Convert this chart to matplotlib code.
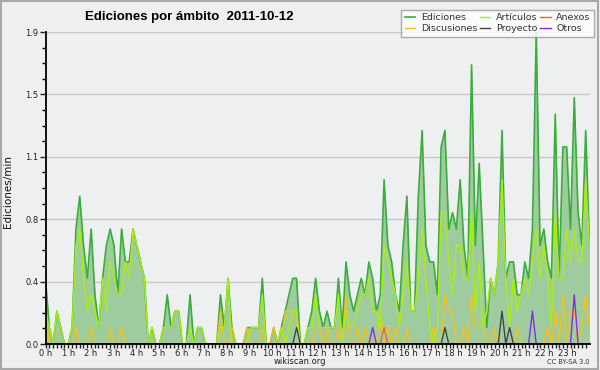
import numpy as np
import matplotlib
matplotlib.use('Agg')
import matplotlib.pyplot as plt
from matplotlib.patches import Rectangle

# edits per minute, one value per 10-minute slot (144 slots, 6 per hour)
ediciones = [
    0.4, 0.1, 0.0, 0.2, 0.1, 0.0,   # 0 h
    0.0, 0.1, 0.7, 0.9, 0.6, 0.4,   # 1 h
    0.7, 0.3, 0.1, 0.4, 0.6, 0.7,   # 2 h
    0.6, 0.3, 0.7, 0.5, 0.5, 0.7,   # 3 h
    0.6, 0.5, 0.4, 0.0, 0.1, 0.0,   # 4 h
    0.0, 0.1, 0.3, 0.1, 0.2, 0.2,   # 5 h
    0.0, 0.0, 0.3, 0.0, 0.1, 0.1,   # 6 h
    0.0, 0.0, 0.0, 0.0, 0.3, 0.1,   # 7 h
    0.4, 0.1, 0.0, 0.0, 0.0, 0.1,   # 8 h
    0.1, 0.1, 0.1, 0.4, 0.0, 0.0,   # 9 h
    0.1, 0.0, 0.1, 0.2, 0.3, 0.4,   # 10 h
    0.4, 0.0, 0.0, 0.1, 0.2, 0.4,   # 11 h
    0.2, 0.1, 0.2, 0.1, 0.1, 0.4,   # 12 h
    0.1, 0.5, 0.3, 0.2, 0.3, 0.4,   # 13 h
    0.3, 0.5, 0.4, 0.2, 0.3, 1.0,   # 14 h
    0.6, 0.5, 0.3, 0.2, 0.6, 0.9,   # 15 h
    0.2, 0.2, 0.9, 1.3, 0.6, 0.5,   # 16 h
    0.5, 0.3, 1.2, 1.3, 0.7, 0.8,   # 17 h
    0.7, 1.0, 0.6, 0.4, 1.7, 0.6,   # 18 h
    1.1, 0.6, 0.1, 0.4, 0.3, 0.5,   # 19 h
    1.3, 0.4, 0.5, 0.5, 0.3, 0.3,   # 20 h
    0.5, 0.4, 0.7, 1.9, 0.6, 0.7,   # 21 h
    0.5, 0.4, 1.4, 0.4, 1.2, 1.2,   # 22 h
    0.7, 1.5, 0.8, 0.6, 1.3, 0.6,   # 23 h
]

articulos = [
    0.2, 0.1, 0.0, 0.2, 0.1, 0.0,
    0.0, 0.1, 0.6, 0.7, 0.4, 0.2,
    0.3, 0.2, 0.1, 0.4, 0.2, 0.5,
    0.4, 0.3, 0.3, 0.5, 0.4, 0.7,
    0.6, 0.5, 0.4, 0.0, 0.1, 0.0,
    0.0, 0.1, 0.1, 0.1, 0.2, 0.2,
    0.0, 0.0, 0.1, 0.0, 0.1, 0.1,
    0.0, 0.0, 0.0, 0.0, 0.1, 0.1,
    0.4, 0.0, 0.0, 0.0, 0.0, 0.0,
    0.1, 0.1, 0.1, 0.3, 0.0, 0.0,
    0.0, 0.0, 0.1, 0.0, 0.1, 0.2,
    0.2, 0.0, 0.0, 0.1, 0.1, 0.3,
    0.1, 0.1, 0.1, 0.1, 0.1, 0.3,
    0.0, 0.2, 0.1, 0.1, 0.2, 0.3,
    0.3, 0.4, 0.2, 0.2, 0.1, 0.6,
    0.5, 0.4, 0.3, 0.1, 0.3, 0.5,
    0.2, 0.2, 0.4, 0.7, 0.4, 0.1,
    0.0, 0.1, 0.8, 0.8, 0.5, 0.3,
    0.6, 0.6, 0.4, 0.4, 0.8, 0.2,
    0.5, 0.1, 0.2, 0.4, 0.3, 0.5,
    1.0, 0.4, 0.1, 0.4, 0.2, 0.3,
    0.4, 0.3, 0.5, 0.7, 0.4, 0.6,
    0.4, 0.1, 0.8, 0.4, 0.4, 0.7,
    0.5, 0.7, 0.5, 0.5, 1.0, 0.6,
]

# sparse series: slot index -> edits/min (all other slots are zero)
discusiones = {0: 0.2, 8: 0.1, 12: 0.1, 17: 0.1, 20: 0.1, 46: 0.2, 49: 0.1,
               53: 0.1, 57: 0.1, 60: 0.1, 63: 0.2, 64: 0.2, 65: 0.2, 66: 0.1,
               71: 0.1, 72: 0.1, 74: 0.1, 77: 0.1, 79: 0.3, 82: 0.1, 84: 0.1,
               88: 0.2, 90: 0.1, 92: 0.1, 95: 0.1, 102: 0.1, 105: 0.3,
               106: 0.2, 107: 0.2, 110: 0.1, 112: 0.3, 113: 0.1, 114: 0.1,
               115: 0.1, 118: 0.1, 124: 0.1, 132: 0.1, 134: 0.2, 136: 0.3,
               138: 0.2, 139: 0.2, 141: 0.1, 142: 0.3, 143: 0.1}
anexos = {89: 0.1}
proyecto = {66: 0.1, 105: 0.1, 120: 0.2, 122: 0.1}
otros = {86: 0.1, 128: 0.2, 139: 0.3}

hour_labels = ['{} h'.format(h) for h in range(24)]
ytick_vals = np.linspace(0, 1.9, 6)

n = len(ediciones)
x = np.linspace(0, 24, n)


def dense(d):
    arr = np.zeros(n)
    for k, v in d.items():
        arr[k] = v
    return arr


fig = plt.figure(figsize=(6, 3.7), dpi=100, facecolor='#efefef')
fig.patches.append(Rectangle((0.002, 0.003), 0.995, 0.993, transform=fig.transFigure,
                             fill=False, edgecolor='#a8a8a8', linewidth=1.5))

ax = fig.add_axes([45.5 / 600, 26 / 370, 544 / 600, 312 / 370])
ax.set_facecolor('#eeeff1')

ax.fill_between(x, ediciones, color='#9fcc9f', lw=0)
ax.plot(x, ediciones, color='#3aae3a', lw=1.2, label='Ediciones')
ax.plot(x, dense(discusiones), color='#f2c21a', lw=1.0, label='Discusiones')
ax.plot(x, articulos, color='#aaee11', lw=1.0, label='Artículos')
ax.plot(x, dense(proyecto), color='#444444', lw=1.0, label='Proyecto')
ax.plot(x, dense(anexos), color='#f06a2a', lw=1.0, label='Anexos')
ax.plot(x, dense(otros), color='#8a2be8', lw=1.0, label='Otros')

ax.set_xlim(0, 24)
ax.set_ylim(0, 1.9)
ax.set_xticks(range(24))
ax.set_xticklabels(hour_labels)
ax.set_xticks(np.arange(0, 24, 1 / 6), minor=True)
ax.set_yticks(ytick_vals)
ax.set_yticklabels(['%.1f' % v for v in ytick_vals])
ax.set_yticks(np.linspace(0, 1.9, 21), minor=True)
ax.tick_params(axis='x', which='both', direction='out', length=3, width=1,
               labelsize=6, colors='#222222', pad=0.5)
ax.tick_params(axis='y', which='major', direction='out', length=4, width=1,
               labelsize=6, colors='#222222', pad=1)
ax.tick_params(axis='y', which='minor', direction='out', length=3, width=1)
ax.yaxis.grid(True, which='major', color='#c8c8c8', lw=1)
ax.set_axisbelow(True)
for s in ['top', 'right']:
    ax.spines[s].set_visible(False)
for s in ['left', 'bottom']:
    ax.spines[s].set_linewidth(1.3)

fig.text(8 / 600, 1 - 192 / 370, 'Ediciones/min', rotation=90, fontsize=7.5,
         va='center', ha='center', color='#111111')
fig.text(85 / 600, 1 - 17 / 370, 'Ediciones por ámbito  2011-10-12', fontsize=9.5,
         fontweight='bold', family='Liberation Sans', va='center', ha='left')
fig.text(300 / 600, 1 - 362 / 370, 'wikiscan.org', fontsize=6, ha='center',
         va='center', color='#222222')
fig.text(590 / 600, 1 - 362 / 370, 'CC BY-SA 3.0', fontsize=4.8, ha='right',
         va='center', color='#333333')

handles, labels = ax.get_legend_handles_labels()
leg = fig.legend(handles, labels, ncol=3, loc='upper right',
                 bbox_to_anchor=(594 / 600, 1 - 10 / 370), fontsize=6.8,
                 frameon=True, fancybox=False, shadow=False, handlelength=1.1,
                 handletextpad=0.6, columnspacing=0.3, borderpad=0.35,
                 labelspacing=0.2, borderaxespad=0)
leg.get_frame().set_edgecolor('#999999')
leg.get_frame().set_facecolor('white')
leg.get_frame().set_linewidth(1)
for t in leg.get_texts():
    t.set_color('#333333')

fig.savefig('out.png', dpi=100, facecolor=fig.get_facecolor())
